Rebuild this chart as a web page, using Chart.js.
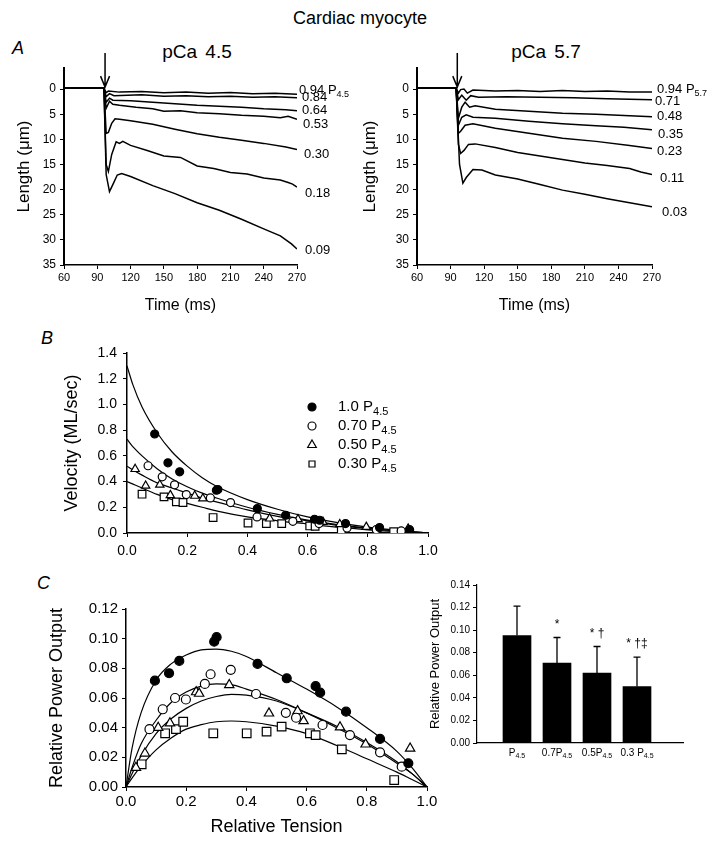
<!DOCTYPE html>
<html>
<head>
<meta charset="utf-8">
<script src="https://cdn.jsdelivr.net/npm/chart.js@4.4.0/dist/chart.umd.min.js"></script>
<style>
  body { margin: 0; background: #fff; width: 720px; height: 859px; position: relative; overflow: hidden;
         font-family: 'Liberation Sans', Arial, Helvetica, sans-serif; color: #000; }
  canvas { position: absolute; }
  .lbl { position: absolute; white-space: nowrap; line-height: 1; }
  .panel { font-size: 18px; font-style: italic; }
</style>
</head>
<body>
<div class="lbl" style="left:0;width:720px;text-align:center;top:9px;font-size:18px">Cardiac myocyte</div>
<div class="lbl panel" style="left:12px;top:39px">A</div>
<div class="lbl panel" style="left:41px;top:329px">B</div>
<div class="lbl panel" style="left:37px;top:574px">C</div>
<div class="lbl" style="left:137px;width:120px;text-align:center;top:42px;font-size:19px;word-spacing:3px">pCa 4.5</div>
<div class="lbl" style="left:486px;width:120px;text-align:center;top:42px;font-size:19px;word-spacing:3px">pCa 5.7</div>

<canvas id="a45" width="360" height="290" style="left:0;top:30px"></canvas>
<canvas id="a57" width="360" height="290" style="left:360px;top:30px"></canvas>
<canvas id="vel" width="480" height="245" style="left:0;top:320px"></canvas>
<canvas id="pow" width="440" height="299" style="left:0;top:560px"></canvas>
<canvas id="bars" width="300" height="200" style="left:420px;top:570px"></canvas>

<script>
// ---- panel A: length traces (time ms, length um) ----
const TIME_TICKS = [60, 90, 120, 150, 180, 210, 240, 270];
const LEN_TICKS = [0, 5, 10, 15, 20, 25, 30, 35];

const PCA45_LOADS = ['0.94', '0.84', '0.64', '0.53', '0.30', '0.18', '0.09'];
const PCA45_TRACES = [
  [[60,-0.2],[96,-0.2],[98,0.7],[100,0.4],[110,0.6],[130,0.5],[150,0.7],[170,0.6],[190,0.8],[210,0.7],[230,0.9],[250,0.8],[270,1.0]],
  [[60,-0.2],[96,-0.2],[98,1.5],[101,0.9],[105,1.3],[130,1.1],[150,1.4],[170,1.3],[190,1.5],[210,1.4],[230,1.6],[250,1.5],[270,1.7]],
  [[60,-0.2],[96,-0.2],[98,2.6],[101,1.8],[104,2.2],[120,2.3],[140,2.6],[160,2.9],[180,3.2],[200,3.4],[220,3.6],[240,3.9],[260,4.1],[270,4.3]],
  [[60,-0.2],[96,-0.2],[98,3.8],[101,2.4],[104,3.0],[110,3.2],[125,3.6],[140,3.9],[150,4.4],[165,4.3],[180,4.7],[200,4.9],[220,5.2],[240,5.4],[255,5.7],[262,5.4],[270,6.0]],
  [[60,-0.2],[96,-0.2],[98,8.8],[100,8.6],[103,6.8],[106,5.9],[110,6.0],[120,6.3],[140,7.0],[160,8.0],[180,8.9],[200,9.6],[220,10.2],[240,10.8],[260,11.5],[270,12.0]],
  [[60,-0.2],[96,-0.2],[98,15.0],[100,16.4],[103,13.0],[107,10.5],[110,10.8],[113,10.4],[120,11.2],[135,12.2],[150,13.3],[165,13.6],[180,15.3],[195,15.8],[210,16.6],[225,16.9],[240,17.7],[255,18.1],[262,18.6],[266,18.9],[270,19.5]],
  [[60,-0.2],[96,-0.2],[98,17.0],[101,20.4],[104,19.0],[108,17.1],[112,16.8],[120,17.4],[140,19.2],[160,20.8],[180,22.6],[200,24.1],[220,25.9],[240,27.8],[255,29.2],[265,30.8],[270,31.8]]
];

const PCA57_LOADS = ['0.94', '0.71', '0.48', '0.35', '0.23', '0.11', '0.03'];
const PCA57_TRACES = [
  [[60,-0.2],[95,-0.2],[97,0.8],[99,0.1],[102,0.0],[105,0.8],[110,0.2],[130,0.4],[150,0.3],[170,0.5],[190,0.3],[210,0.5],[230,0.4],[250,0.6],[270,0.6]],
  [[60,-0.2],[95,-0.2],[97,2.1],[100,1.2],[104,2.2],[108,1.3],[115,1.6],[140,1.5],[170,1.6],[200,1.7],[230,1.9],[250,2.0],[270,2.1]],
  [[60,-0.2],[95,-0.2],[97,5.8],[100,3.6],[103,2.6],[107,3.6],[112,3.3],[130,4.0],[160,4.4],[190,4.8],[220,5.0],[250,5.3],[270,5.5]],
  [[60,-0.2],[95,-0.2],[97,7.2],[100,5.6],[104,5.1],[110,5.6],[130,5.8],[160,6.4],[190,6.9],[220,7.3],[245,7.6],[270,8.1]],
  [[60,-0.2],[95,-0.2],[97,8.8],[99,8.4],[103,7.2],[110,6.9],[130,7.8],[160,8.8],[190,9.8],[220,10.4],[250,11.2],[270,11.8]],
  [[60,-0.2],[95,-0.2],[97,11.0],[99,12.8],[102,12.2],[106,11.0],[112,10.9],[130,11.6],[150,12.6],[170,13.3],[190,14.0],[210,14.7],[230,15.2],[250,15.8],[260,16.5],[270,17.0]],
  [[60,-0.2],[95,-0.2],[96,5.0],[98,15.0],[101,18.7],[104,17.6],[110,16.0],[118,16.1],[130,17.1],[150,17.9],[170,19.0],[190,20.1],[210,20.9],[230,21.8],[250,22.6],[270,23.4]]
];

const ARROW_45 = 97;
const ARROW_57 = 96;

// ---- panel B: force-velocity (relative tension, ML/sec) ----
const FRAC_TICKS = [0, 0.2, 0.4, 0.6, 0.8, 1.0];
const VEL_TICKS = [0, 0.2, 0.4, 0.6, 0.8, 1.0, 1.2, 1.4];
const SERIES_NAMES = ['1.0', '0.70', '0.50', '0.30'];

const VEL_100 = [[0.092,0.77],[0.136,0.546],[0.175,0.476],[0.297,0.333],[0.302,0.338],[0.433,0.19],[0.527,0.138],[0.623,0.107],[0.64,0.099],[0.726,0.073],[0.839,0.042],[0.939,0.026]];
const VEL_070 = [[0.07,0.523],[0.117,0.437],[0.158,0.375],[0.197,0.299],[0.277,0.273],[0.344,0.237],[0.432,0.125],[0.551,0.091],[0.638,0.073],[0.731,0.039],[0.828,0.026],[0.911,0.016]];
const VEL_050 = [[0.027,0.497],[0.062,0.367],[0.109,0.375],[0.144,0.294],[0.225,0.289],[0.252,0.268],[0.474,0.112],[0.568,0.107],[0.651,0.086],[0.707,0.068],[0.795,0.047],[0.934,0.034]];
const VEL_030 = [[0.05,0.302],[0.123,0.281],[0.164,0.242],[0.186,0.237],[0.286,0.12],[0.402,0.078],[0.463,0.073],[0.514,0.073],[0.607,0.055],[0.625,0.052],[0.712,0.026],[0.886,0.01]];

const FIT_VEL_X   = [0, 0.02, 0.05, 0.1, 0.15, 0.2, 0.25, 0.3, 0.4, 0.5, 0.6, 0.7, 0.8, 0.9, 1.0];
const FIT_VEL_100 = [1.30, 1.15, 0.98, 0.78, 0.63, 0.52, 0.43, 0.36, 0.26, 0.185, 0.125, 0.08, 0.045, 0.02, 0];
const FIT_VEL_070 = [0.73, 0.67, 0.60, 0.50, 0.42, 0.36, 0.31, 0.27, 0.20, 0.145, 0.10, 0.065, 0.038, 0.015, 0];
const FIT_VEL_050 = [0.52, 0.49, 0.45, 0.39, 0.35, 0.31, 0.27, 0.24, 0.18, 0.13, 0.095, 0.06, 0.035, 0.015, 0];
const FIT_VEL_030 = [0.40, 0.38, 0.35, 0.30, 0.26, 0.23, 0.20, 0.17, 0.125, 0.095, 0.07, 0.045, 0.025, 0.01, 0];

// ---- panel C: power-tension ----
const POW_TICKS = [0, 0.02, 0.04, 0.06, 0.08, 0.10, 0.12];

const POW_100 = [[0.096,0.0717],[0.143,0.0767],[0.177,0.085],[0.293,0.098],[0.301,0.101],[0.437,0.083],[0.534,0.0733],[0.63,0.068],[0.645,0.0636],[0.731,0.0508],[0.844,0.0324],[0.938,0.016]];
const POW_070 = [[0.078,0.039],[0.122,0.0524],[0.163,0.06],[0.199,0.059],[0.262,0.0695],[0.281,0.076],[0.348,0.079],[0.432,0.0627],[0.531,0.05],[0.565,0.0467],[0.653,0.0418],[0.744,0.035],[0.844,0.0234],[0.916,0.0137]];
const POW_050 = [[0.033,0.013],[0.063,0.0227],[0.107,0.04],[0.146,0.043],[0.233,0.064],[0.243,0.063],[0.343,0.0688],[0.475,0.0497],[0.57,0.0512],[0.59,0.0445],[0.711,0.0403],[0.796,0.0288],[0.944,0.026]];
const POW_030 = [[0.052,0.0153],[0.13,0.0362],[0.166,0.039],[0.19,0.044],[0.29,0.0362],[0.401,0.0362],[0.467,0.0373],[0.517,0.0407],[0.611,0.0362],[0.63,0.035],[0.717,0.0254],[0.891,0.0047]];

const FIT_POW_X   = [0, 0.02, 0.05, 0.1, 0.15, 0.2, 0.25, 0.3, 0.35, 0.4, 0.5, 0.6, 0.7, 0.8, 0.9, 0.95, 1.0];
const FIT_POW_100 = [0, 0.026, 0.05, 0.072, 0.083, 0.089, 0.0925, 0.093, 0.0915, 0.088, 0.077, 0.066, 0.054, 0.040, 0.024, 0.013, 0];
const FIT_POW_070 = [0, 0.013, 0.029, 0.045, 0.057, 0.064, 0.068, 0.0695, 0.069, 0.066, 0.059, 0.050, 0.040, 0.029, 0.016, 0.009, 0];
const FIT_POW_050 = [0, 0.009, 0.021, 0.036, 0.046, 0.053, 0.058, 0.061, 0.0625, 0.062, 0.058, 0.050, 0.041, 0.030, 0.017, 0.009, 0];
const FIT_POW_030 = [0, 0.006, 0.014, 0.025, 0.033, 0.039, 0.042, 0.044, 0.0445, 0.044, 0.041, 0.036, 0.028, 0.019, 0.010, 0.005, 0];

// ---- panel C inset: mean power ----
const BAR_LABELS = ['P', '0.7P', '0.5P', '0.3 P'];
const BAR_MEAN = [0.0952, 0.0708, 0.062, 0.0501];
const BAR_SD = [0.026, 0.0227, 0.0235, 0.026];
const BAR_MARKS = ['', '*', '* \u2020', '* \u2020\u2021'];
const BAR_TICKS = [0, 0.02, 0.04, 0.06, 0.08, 0.10, 0.12, 0.14];

// ---------------------------------------------------------------
const FONT = "'Liberation Sans', Arial, Helvetica, sans-serif";
Chart.defaults.font.family = FONT;
Chart.defaults.color = '#000';

const MARKERS = [
  { pointStyle: 'circle', fill: '#000' },
  { pointStyle: 'circle', fill: '#fff' },
  { pointStyle: 'triangle', fill: '#fff' },
  { pointStyle: 'rect', fill: '#fff' }
];

function drawSub(ctx, x, y, main, sub, size, align) {
  ctx.save();
  ctx.fillStyle = '#000';
  ctx.textBaseline = 'middle';
  ctx.textAlign = 'left';
  const big = size + 'px ' + FONT, small = Math.round(size * 0.7) + 'px ' + FONT;
  ctx.font = big;
  const w1 = ctx.measureText(main).width;
  ctx.font = small;
  const w2 = sub ? ctx.measureText(sub).width : 0;
  let x0 = x;
  if (align === 'center') x0 = x - (w1 + w2) / 2;
  if (align === 'right') x0 = x - w1 - w2;
  ctx.font = big;
  ctx.fillText(main, x0, y);
  if (sub) {
    ctx.font = small;
    ctx.fillText(sub, x0 + w1, y + size * 0.3);
  }
  ctx.restore();
}

function drawMarker(ctx, st, x, y, r) {
  ctx.save();
  ctx.fillStyle = st.fill;
  ctx.strokeStyle = '#000';
  ctx.lineWidth = 1.2;
  ctx.beginPath();
  if (st.pointStyle === 'circle') {
    ctx.arc(x, y, r, 0, Math.PI * 2);
  } else if (st.pointStyle === 'triangle') {
    ctx.moveTo(x, y - r);
    ctx.lineTo(x + r * 0.866, y + r / 2);
    ctx.lineTo(x - r * 0.866, y + r / 2);
    ctx.closePath();
  } else {
    const h = r * 0.75;
    ctx.rect(x - h, y - h, 2 * h, 2 * h);
  }
  ctx.fill();
  ctx.stroke();
  ctx.restore();
}

function axis(o) {
  return {
    type: 'linear',
    min: o.min, max: o.max, reverse: !!o.reverse,
    afterFit: o.fit,
    afterBuildTicks: s => { s.ticks = o.ticks.map(v => ({ value: v })); },
    border: { display: true, color: '#000', width: o.bw || 1.5 },
    grid: { drawOnChartArea: false, drawTicks: true, tickLength: 4, color: '#000', lineWidth: 1 },
    ticks: { display: o.showTicks !== false, color: '#000', padding: o.pad, font: { size: o.fs },
             callback: o.fmt || (v => v), autoSkip: false, maxRotation: 0 },
    title: o.title
      ? { display: true, text: o.title, color: '#000', font: { size: o.tfs }, padding: o.tpad }
      : { display: false }
  };
}

// panel A -----------------------------------------------------
function arrowPlugin(t) {
  return {
    id: 'arrow',
    afterDatasetsDraw(chart) {
      const { ctx, chartArea, scales: { x, y } } = chart;
      const px = x.getPixelForValue(t);
      const top = chartArea.top - 15, bot = y.getPixelForValue(-0.4);
      ctx.save();
      ctx.strokeStyle = '#000';
      ctx.lineWidth = 1.5;
      ctx.beginPath();
      ctx.moveTo(px, top); ctx.lineTo(px, bot);
      ctx.moveTo(px - 4.5, bot - 11); ctx.lineTo(px, bot); ctx.lineTo(px + 4.5, bot - 11);
      ctx.stroke();
      ctx.restore();
    }
  };
}

function traceLabels(loads, sub, nudge) {
  return {
    id: 'traceLabels',
    afterDatasetsDraw(chart) {
      const { ctx, chartArea, scales: { y } } = chart;
      chart.data.datasets.forEach((ds, i) => {
        const last = ds.data[ds.data.length - 1];
        const py = y.getPixelForValue(last[1]) + nudge[i][1];
        const px = chartArea.right + nudge[i][0];
        if (i === 0) drawSub(ctx, px, py, loads[i] + ' P', sub, 13, 'left');
        else drawSub(ctx, px, py, loads[i], '', 13, 'left');
      });
    }
  };
}

function traceChart(id, traces, loads, sub, arrowAt, yw, padR, nudge, ytpad) {
  return new Chart(document.getElementById(id), {
    type: 'scatter',
    data: {
      datasets: traces.map(t => ({
        data: t, showLine: true, borderColor: '#000', borderWidth: 1.5,
        pointRadius: 0, tension: 0, fill: false
      }))
    },
    options: {
      responsive: false, animation: false,
      layout: { padding: { top: 38, right: padR, bottom: 0, left: 0 } },
      plugins: { legend: { display: false }, tooltip: { enabled: false } },
      scales: {
        x: axis({ min: 60, max: 270, ticks: TIME_TICKS, fit: s => { s.height = 55; }, pad: 2, fs: 11,
                  title: 'Time (ms)', tfs: 16, tpad: { top: 0, bottom: 5 }, bw: 1.5 }),
        y: axis({ min: -4.2, max: 35, reverse: true, ticks: LEN_TICKS, fit: s => { s.width = yw; }, pad: 4, fs: 12,
                  title: 'Length (\u03bcm)', tfs: 17, tpad: { top: ytpad, bottom: 0 }, bw: 2 })
      }
    },
    plugins: [arrowPlugin(arrowAt), traceLabels(loads, sub, nudge)]
  });
}

traceChart('a45', PCA45_TRACES, PCA45_LOADS, '4.5', ARROW_45, 64, 63,
  [[2, -4], [5, 0], [5, 0], [6, 5], [7, 5], [8, 6], [8, 2]], 14);
traceChart('a57', PCA57_TRACES, PCA57_LOADS, '5.7', ARROW_57, 57, 68,
  [[5, -3], [3, 2], [5, 0], [6, 5], [5, 3], [8, 4], [10, 6]], 0);

// panels B and C ----------------------------------------------
function pairs(xs, ys) { return xs.map((x, i) => [x, ys[i]]); }

function markerSets(series, r) {
  return series.map((d, i) => ({
    data: d, showLine: false,
    pointStyle: MARKERS[i].pointStyle,
    pointRadius: MARKERS[i].pointStyle === 'circle' ? r : (MARKERS[i].pointStyle === 'rect' ? r * 1.35 : r * 1.2),
    backgroundColor: MARKERS[i].fill, borderColor: '#000', borderWidth: 1.2
  }));
}
function curveSets(curves) {
  return curves.map(d => ({
    data: d, showLine: true, pointRadius: 0, borderColor: '#000', borderWidth: 1.2,
    cubicInterpolationMode: 'monotone', fill: false
  }));
}

const velLegend = {
  id: 'velLegend',
  afterDraw(chart) {
    const ctx = chart.ctx;
    SERIES_NAMES.forEach((s, i) => {
      const y = 87 + i * 19;
      drawMarker(ctx, MARKERS[i], 312, y, i === 2 ? 5 : 4);
      drawSub(ctx, 338, y, s + ' P', '4.5', 15, 'left');
    });
  }
};

new Chart(document.getElementById('vel'), {
  type: 'scatter',
  data: {
    datasets: markerSets([VEL_100, VEL_070, VEL_050, VEL_030], 4).concat(curveSets([
      pairs(FIT_VEL_X, FIT_VEL_100), pairs(FIT_VEL_X, FIT_VEL_070),
      pairs(FIT_VEL_X, FIT_VEL_050), pairs(FIT_VEL_X, FIT_VEL_030)]))
  },
  options: {
    responsive: false, animation: false,
    layout: { padding: { top: 33, right: 52, bottom: 0, left: 0 } },
    plugins: { legend: { display: false }, tooltip: { enabled: false } },
    scales: {
      x: axis({ min: 0, max: 1, ticks: FRAC_TICKS, fit: s => { s.height = 32; }, pad: 6, fs: 14,
                fmt: v => v.toFixed(1) }),
      y: axis({ min: 0, max: 1.4, ticks: VEL_TICKS, fit: s => { s.width = 127; }, pad: 6, fs: 14,
                fmt: v => v.toFixed(1), title: 'Velocity (ML/sec)', tfs: 18, tpad: { top: 61, bottom: 0 } })
    }
  },
  plugins: [velLegend]
});

new Chart(document.getElementById('pow'), {
  type: 'scatter',
  data: {
    datasets: markerSets([POW_100, POW_070, POW_050, POW_030], 4.5).concat(curveSets([
      pairs(FIT_POW_X, FIT_POW_100), pairs(FIT_POW_X, FIT_POW_070),
      pairs(FIT_POW_X, FIT_POW_050), pairs(FIT_POW_X, FIT_POW_030)]))
  },
  options: {
    responsive: false, animation: false,
    layout: { padding: { top: 49, right: 13, bottom: 0, left: 0 } },
    plugins: { legend: { display: false }, tooltip: { enabled: false } },
    scales: {
      x: axis({ min: 0, max: 1, ticks: FRAC_TICKS, fit: s => { s.height = 72; }, pad: 2, fs: 15,
                fmt: v => v.toFixed(1), title: 'Relative Tension', tfs: 18, tpad: { top: 0, bottom: 21 } }),
      y: axis({ min: 0, max: 0.12, ticks: POW_TICKS, fit: s => { s.width = 126; }, pad: 4, fs: 15,
                fmt: v => v.toFixed(2), title: 'Relative Power Output', tfs: 18, tpad: { top: 46, bottom: 0 } })
    }
  }
});

// inset bars ---------------------------------------------------
const barExtras = {
  id: 'barExtras',
  afterDatasetsDraw(chart) {
    const { ctx, scales: { x, y } } = chart;
    ctx.save();
    BAR_MEAN.forEach((m, i) => {
      const px = x.getPixelForValue(i + 1);
      const top = y.getPixelForValue(m + BAR_SD[i]);
      ctx.strokeStyle = '#000';
      ctx.lineWidth = 1.3;
      ctx.beginPath();
      ctx.moveTo(px, y.getPixelForValue(m)); ctx.lineTo(px, top);
      ctx.moveTo(px - 3.5, top); ctx.lineTo(px + 3.5, top);
      ctx.stroke();
      if (BAR_MARKS[i]) {
        ctx.fillStyle = '#000';
        ctx.font = '12px ' + FONT;
        ctx.textAlign = 'center';
        ctx.textBaseline = 'middle';
        ctx.fillText(BAR_MARKS[i], px, top - 13);
      }
      drawSub(ctx, px, y.bottom + 10, BAR_LABELS[i], '4.5', 10, 'center');
    });
    ctx.restore();
  }
};

new Chart(document.getElementById('bars'), {
  type: 'bar',
  data: {
    datasets: [{
      data: BAR_MEAN.map((v, i) => ({ x: i + 1, y: v })),
      backgroundColor: '#000', borderWidth: 0, barThickness: 28
    }]
  },
  options: {
    responsive: false, animation: false,
    layout: { padding: { top: 15, right: 37, bottom: 0, left: 0 } },
    plugins: { legend: { display: false }, tooltip: { enabled: false } },
    scales: {
      x: {
        type: 'linear', min: 0, max: 5.15, offset: false,
        afterFit: s => { s.height = 27; },
        border: { display: true, color: '#000', width: 1.2 },
        grid: { display: false },
        ticks: { display: false }
      },
      y: axis({ min: 0, max: 0.14, ticks: BAR_TICKS, fit: s => { s.width = 57; }, pad: 3, fs: 10,
                fmt: v => v.toFixed(2), title: 'Relative Power Output', tfs: 13, tpad: { top: 8, bottom: 0 }, bw: 1.2 })
    }
  },
  plugins: [barExtras]
});
</script>
</body>
</html>
